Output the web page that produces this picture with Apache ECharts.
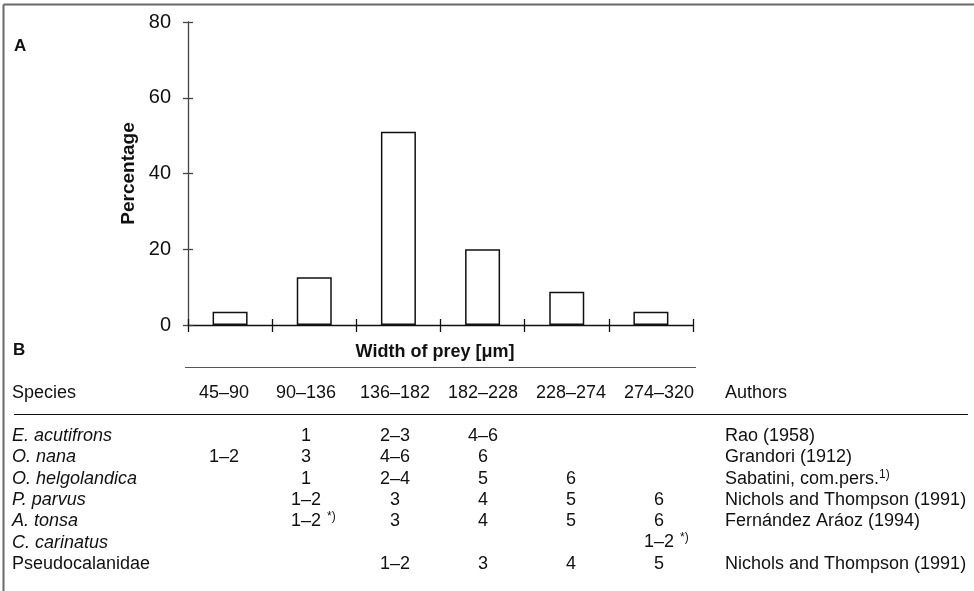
<!DOCTYPE html>
<html>
<head>
<meta charset="utf-8">
<script src="https://cdn.jsdelivr.net/npm/echarts@6/dist/echarts.min.js"></script>
<style>
  html, body { margin: 0; padding: 0; background: #fff; }
  #chart { width: 974px; height: 591px; }
</style>
</head>
<body>
<div id="chart"></div>
<script>
// prey width classes (µm) and share of prey in each class (%)
var sizeClasses = ['45–90', '90–136', '136–182', '182–228', '228–274', '274–320'];
var percentages = [3.5, 12.6, 51.0, 20.0, 8.8, 3.5];
var yTicks = [0, 20, 40, 60, 80];

// table B: copepodite stages feeding in each width class ('^' marks a footnote)
var species = ['E. acutifrons', 'O. nana', 'O. helgolandica', 'P. parvus', 'A. tonsa', 'C. carinatus', 'Pseudocalanidae'];
var stages = [
    ['', '1', '2–3', '4–6', '', ''],
    ['1–2', '3', '4–6', '6', '', ''],
    ['', '1', '2–4', '5', '6', ''],
    ['', '1–2', '3', '4', '5', '6'],
    ['', '1–2 ^*)', '3', '4', '5', '6'],
    ['', '', '', '', '', '1–2 ^*)'],
    ['', '', '1–2', '3', '4', '5']
];
var authors = ['Rao (1958)', 'Grandori (1912)', 'Sabatini, com.pers.^1)', 'Nichols and Thompson (1991)',
    'Fernández Aráoz (1994)', '', 'Nichols and Thompson (1991)'];

var FONT = '"Liberation Sans", Arial, Helvetica, sans-serif';
var colX = [224, 306, 395, 483, 571, 659];   //列中心
var rowY0 = 436, rowStep = 21.3;

// 'text ^sup' -> rich string
function rich(s) {
    var i = s.indexOf('^');
    if (i < 0) return '{n|' + s + '}';
    return '{n|' + s.slice(0, i) + '}{sup|' + s.slice(i + 1) + '}';
}
var richStyle = {
    n: { fontSize: 18, fontFamily: FONT, fill: '#111', lineHeight: 20 },
    sup: { fontSize: 12, fontFamily: FONT, fill: '#111', verticalAlign: 'top', lineHeight: 12 }
};

function txt(s, x, y, align, font) {
    return {
        type: 'text', silent: true,
        style: { text: s, x: x, y: y, font: font || ('18px ' + FONT), fill: '#111',
            textAlign: align || 'left', textVerticalAlign: 'middle' }
    };
}
function richTxt(s, x, y, align) {
    return {
        type: 'text', silent: true,
        style: { text: rich(s), x: x, y: y, rich: richStyle, textAlign: align, textVerticalAlign: 'middle' }
    };
}
function line(x1, y1, x2, y2, color, w) {
    return { type: 'line', silent: true, shape: { x1: x1, y1: y1, x2: x2, y2: y2 },
        style: { stroke: color, lineWidth: w } };
}

var graphics = [
    line(3.5, 4.5, 974, 4.5, '#6a6a6a', 2),
    line(3.5, 4.5, 3.5, 591, '#6a6a6a', 2),
    txt('A', 14, 46, 'left', 'bold 17px ' + FONT),
    txt('B', 13, 350, 'left', 'bold 17px ' + FONT),
    txt('Width of prey [μm]', 435, 352, 'center', 'bold 18px ' + FONT),
    line(185, 367.5, 696, 367.5, '#555', 1.2),
    txt('Species', 12, 393),
    txt('Authors', 725, 393),
    line(14, 414.5, 968, 414.5, '#111', 1.2)
];
sizeClasses.forEach(function (c, j) {
    graphics.push(txt(c, colX[j], 393, 'center'));
});
species.forEach(function (sp, i) {
    var y = rowY0 + i * rowStep;
    var italic = sp.indexOf('. ') > 0;   // genus abbreviations are italic, family names not
    graphics.push(txt(sp, 12, y, 'left', (italic ? 'italic ' : '') + '18px ' + FONT));
    stages[i].forEach(function (v, j) {
        if (!v) return;
        if (v.indexOf('^') >= 0) {
            // keep the number centred in its column, footnote mark hangs to the right
            var parts = v.split('^');
            graphics.push(txt(parts[0].trim(), colX[j], y, 'center'));
            graphics.push({
                type: 'text', silent: true,
                style: { text: parts[1], x: colX[j] + 21, y: y - 5, font: '12px ' + FONT, fill: '#111',
                    textAlign: 'left', textVerticalAlign: 'middle' }
            });
        } else {
            graphics.push(txt(v, colX[j], y, 'center'));
        }
    });
    if (authors[i]) graphics.push(richTxt(authors[i], 725, y, 'left'));
});

var myChart = echarts.init(document.getElementById('chart'));
var option = {
    animation: false,
    backgroundColor: '#fff',
    grid: { left: 188, right: 281, top: 22, bottom: 266, containLabel: false },
    xAxis: [
        {
            type: 'category', data: sizeClasses, position: 'bottom',
            axisLine: { lineStyle: { color: '#111', width: 1.3 } },
            axisTick: { show: true, length: 7, inside: false, lineStyle: { color: '#111', width: 1.3 } },
            axisLabel: { show: false }
        },
        {
            type: 'category', data: sizeClasses, position: 'bottom',
            axisLine: { show: false },
            axisTick: { show: true, length: 6, inside: true, lineStyle: { color: '#111', width: 1.3 } },
            axisLabel: { show: false }
        }
    ],
    yAxis: [
        {
            type: 'value', min: 0, max: 80, interval: 20, position: 'left',
            name: 'Percentage', nameLocation: 'middle', nameRotate: 90, nameGap: 50,
            nameTextStyle: { fontFamily: FONT, fontWeight: 'bold', fontSize: 19, color: '#111' },
            axisLine: { show: true, lineStyle: { color: '#444', width: 1.3 } },
            axisTick: { show: true, length: 5, inside: false, lineStyle: { color: '#444', width: 1.3 } },
            axisLabel: { fontFamily: FONT, fontSize: 20, color: '#111', margin: 17,
                formatter: function (v) { return yTicks.indexOf(v) >= 0 ? v : ''; } },
            splitLine: { show: false }
        },
        {
            type: 'value', min: 0, max: 80, interval: 20, position: 'left',
            axisLine: { show: false },
            axisTick: { show: true, inside: true, length: 5, lineStyle: { color: '#444', width: 1.3 } },
            axisLabel: { show: false },
            splitLine: { show: false }
        }
    ],
    series: [
        {
            type: 'bar', data: percentages, barWidth: 35,
            itemStyle: { color: '#fff', borderColor: '#111', borderWidth: 1.5 },
            emphasis: { disabled: true }
        }
    ],
    graphic: graphics
};
myChart.setOption(option);
window.addEventListener('resize', function () {
    myChart.resize();
});
</script>
</body>
</html>
